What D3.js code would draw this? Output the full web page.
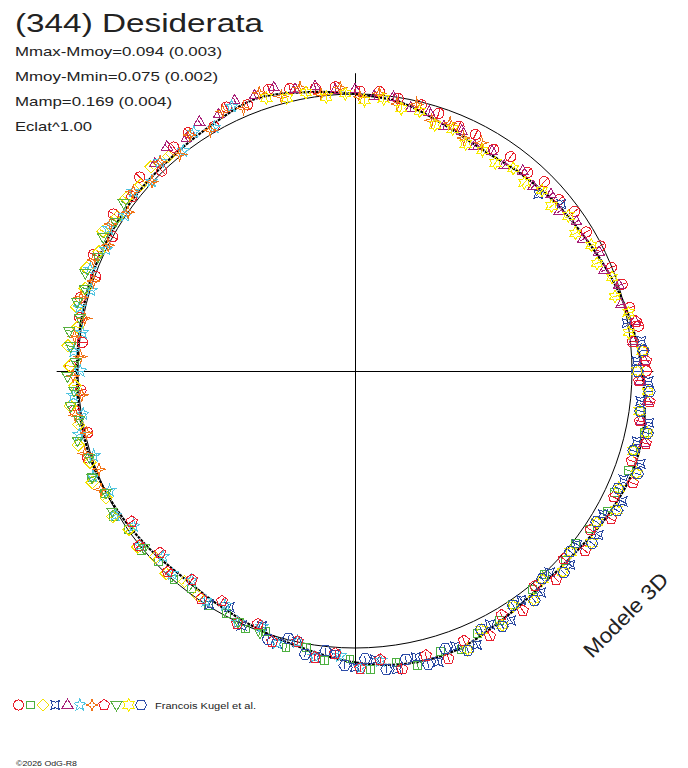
<!DOCTYPE html>
<html>
<head>
<meta charset="utf-8">
<title>(344) Desiderata</title>
<style>
  html, body { margin: 0; background: #fff; }
  svg { display: block; font-family: "Liberation Sans", Arial, sans-serif; }
  .txt { fill: #222; }
</style>
</head>
<body>
<div id="chart"></div>
<script src="https://cdn.jsdelivr.net/npm/d3@7"></script>
<script>
// phase in degrees (0 = top, clockwise), value = relative flux (1 = reference circle)
var modelPhase = [0,10,20,30,40,50,60,70,80,90,100,110,120,130,140,150,160,170,180,190,200,210,220,230,240,250,260,270,280,290,300,310,320,330,340,350]
var modelFlux = [1.000,0.982,0.945,0.922,0.930,0.945,0.960,0.985,1.012,1.036,1.060,1.066,1.050,1.030,1.027,1.045,1.072,1.073,1.052,1.020,0.996,0.978,0.970,0.982,0.995,1.005,1.006,1.004,1.005,1.010,1.012,1.014,1.017,1.028,1.046,1.022]

var s01 = [[252,1.015],[257,0.990],[262,1.022],[266,0.992],[271,1.026],[276,0.990],[281,1.012],[285,1.026],[290,0.996],[294,1.034],[299,1.000],[303,1.040],[308,1.022],[312,1.046],[316,1.004],[321,1.040],[325,1.050],[330,1.018],[334,1.060],[338,1.036],[343,1.064],[347,1.046],[352,1.030],[356,1.028],[1,1.010],[5,1.012],[9,0.996],[14,0.990],[18,0.978],[23,0.960],[27,0.958],[32,0.944],[36,0.956],[41,0.950],[45,0.966],[50,0.962],[54,0.980],[59,0.974],[63,0.994],[68,0.998],[72,1.014],[77,1.018],[81,1.036],[86,1.040],[90,1.052]]
var s02 = [[98,1.040],[102,1.070],[106,1.044],[110,1.052],[115,1.034],[119,1.044],[124,1.020],[128,1.010],[132,1.022],[137,1.004],[141,1.016],[146,1.018],[150,1.040],[155,1.044],[159,1.076],[163,1.058],[168,1.086],[172,1.064],[177,1.078],[181,1.040],[186,1.052],[190,1.012],[194,1.030],[199,0.996],[203,1.012],[208,0.990],[212,0.998],[217,0.982],[221,0.996],[226,0.988],[230,1.006],[235,0.998],[239,1.018],[244,1.008],[248,1.026]]
var s03 = [[215,0.990],[219,0.978],[223,1.000],[227,0.986],[231,1.010],[235,0.996],[239,1.020],[243,1.008],[247,1.030],[251,1.012],[255,1.034],[259,1.016],[263,1.036],[267,1.012],[271,1.030],[275,1.040],[279,1.014],[283,1.032],[287,1.018],[291,1.038],[295,1.020],[299,1.040],[303,1.022],[307,1.036],[311,1.024],[315,1.042],[319,1.026]]
var s04 = [[46,0.920],[51,0.958],[80,0.996],[84,1.040],[88,1.018],[92,1.060],[96,1.036],[100,1.078],[104,1.048],[108,1.084],[112,1.046],[116,1.074],[120,1.034],[124,1.060],[128,1.018],[132,1.046],[136,1.012],[140,1.044],[144,1.022],[148,1.062],[152,1.036],[156,1.082],[160,1.058],[164,1.092],[168,1.056],[172,1.088],[176,1.044],[180,1.070],[184,1.024],[188,1.044],[192,1.000],[196,1.024],[200,0.980],[204,1.006],[208,0.966],[212,0.994]]
var s05 = [[316,1.040],[320,1.056],[324,1.036],[328,1.060],[332,1.048],[336,1.068],[340,1.058],[344,1.064],[348,1.040],[352,1.036],[356,1.016],[0,1.016],[4,0.994],[8,0.998],[12,0.970],[16,0.972],[20,0.940],[24,0.948],[28,0.920],[32,0.934],[36,0.916],[40,0.942],[44,0.926],[48,0.952],[52,0.936],[56,0.964],[60,0.950],[64,0.980],[68,0.970],[72,1.002],[76,0.990],[80,1.026],[84,1.010],[88,1.044],[92,1.030],[96,1.062],[100,1.048],[104,1.076]]
var s06 = [[175,1.050],[179,1.072],[183,1.030],[188,1.042],[192,1.000],[196,1.022],[200,0.982],[205,1.002],[209,0.966],[213,0.990],[218,0.960],[222,0.986],[226,0.964],[231,1.000],[235,0.976],[239,1.010],[244,0.986],[248,1.020],[252,0.992],[257,1.022],[261,0.994],[265,1.020],[270,0.992],[274,1.018],[278,0.994],[283,1.020],[287,0.996],[291,1.024],[296,1.000],[300,1.028],[304,1.002],[309,1.030],[313,1.004],[317,1.032],[322,1.008],[326,1.040],[330,1.016],[335,1.054]]
var s07 = [[245,1.012],[249,0.990],[253,1.020],[257,0.994],[261,1.022],[265,0.990],[269,1.018],[273,0.992],[277,1.020],[281,0.994],[285,1.024],[289,0.998],[293,1.026],[297,1.000],[301,1.030],[305,1.000],[309,1.030],[313,1.002],[317,1.032],[321,1.006],[325,1.040],[329,1.014],[333,1.052],[337,1.030],[341,1.062],[345,1.026],[349,1.042],[353,1.006],[357,1.024],[1,0.990],[5,1.006],[9,0.976],[13,0.988],[17,0.946],[21,0.958],[25,0.928],[29,0.942]]
var s08 = [[80,1.030],[84,1.008],[88,1.052],[92,1.026],[96,1.070],[100,1.044],[104,1.082],[108,1.050],[112,1.082],[116,1.040],[120,1.068],[124,1.026],[128,1.054],[132,1.014],[136,1.046],[140,1.012],[145,1.056],[149,1.028],[153,1.074],[158,1.050],[162,1.092],[166,1.058],[171,1.090],[175,1.046],[179,1.074],[184,1.022],[188,1.044],[192,0.998],[197,1.022],[201,0.978],[205,1.006],[210,0.960],[214,0.992],[218,0.956],[223,0.992],[227,0.962],[231,1.002],[236,0.972]]
var s09 = [[200,1.004],[205,0.998],[230,0.994],[240,1.012],[244,1.000],[248,1.024],[252,1.008],[256,1.032],[260,1.010],[263,1.034],[266,1.016],[269,1.038],[272,1.010],[275,1.030],[278,1.042],[281,1.012],[284,1.034],[287,1.020],[290,1.036],[294,1.016],[298,1.030],[302,1.020],[306,1.032]]
var s10 = [[342,1.036],[346,1.016],[350,1.020],[354,0.994],[358,1.002],[2,0.978],[6,0.988],[10,0.962],[14,0.966],[18,0.934],[22,0.942],[26,0.912],[30,0.920],[34,0.906],[38,0.928],[42,0.914],[46,0.938],[50,0.926],[54,0.952],[58,0.938],[62,0.966],[66,0.956],[70,0.988],[74,0.976],[78,1.010],[82,0.998],[86,1.040],[90,1.020],[94,1.060],[98,1.038],[102,1.078],[106,1.046],[110,1.082],[114,1.042],[118,1.070],[122,1.030],[126,1.056],[130,1.016],[134,1.044],[138,1.012],[142,1.048],[146,1.022],[150,1.062],[154,1.040],[158,1.084]]
var s11 = [[86,1.044],[90,1.020],[94,1.066],[98,1.040],[102,1.080],[106,1.046],[110,1.086],[114,1.040],[118,1.072],[122,1.028],[126,1.058],[130,1.014],[134,1.048],[138,1.010],[142,1.052],[146,1.020],[150,1.064],[154,1.038],[158,1.088],[162,1.054],[166,1.092],[170,1.056],[174,1.084],[178,1.040],[182,1.064],[186,1.016],[190,1.038],[194,0.994],[198,1.018]]

var sessions = [s01, s02, s03, s04, s05, s06, s07, s08, s09, s10, s11]
var sessionErr = [0.018, 0.014, 0.012, 0.012, 0.012, 0.012, 0.012, 0.014, 0.012, 0.012, 0.012]
var sessionShape = ["circle", "square", "diamond", "cross", "triangle", "star5", "star4", "pentagon", "triangleDown", "star6", "hexagon"]
var sessionColor = ["#e8202c", "#4cb040", "#f2e000", "#2a48a0", "#a82078", "#50c4e0", "#f07418", "#e82030", "#58b040", "#f8ec00", "#2c4ca8"]

var title = "(344) Desiderata"
var statLines = ["Mmax-Mmoy=0.094 (0.003)", "Mmoy-Mmin=0.075 (0.002)", "Mamp=0.169 (0.004)", "Eclat^1.00"]
var statWidths = [207, 203, 157, 77]
var author = "Francois Kugel et al."
var copyright = "\u00a92026 OdG-R8"
var modelLabel = "Modele 3D"

var width = 688, height = 768, cx = 355, cy = 371

var r = d3.scaleLinear().domain([0, 1]).range([0, 277])
var ang = d3.scaleLinear().domain([0, 360]).range([0, 2 * Math.PI])

function px(a, f) { return cx + r(f) * Math.sin(ang(a)) }
function py(a, f) { return cy - r(f) * Math.cos(ang(a)) }

function star(n, ro, ri, rot) {
	var pts = []
	for (var k = 0; k < 2 * n; k++) {
		var t = rot + k * Math.PI / n, rr = k % 2 ? ri : ro
		pts.push([(rr * Math.sin(t)).toFixed(2), (-rr * Math.cos(t)).toFixed(2)])
	}
	return "M" + pts.join("L") + "Z"
}
function poly(n, rr, rot) {
	var pts = []
	for (var k = 0; k < n; k++) {
		var t = rot + k * 2 * Math.PI / n
		pts.push([(rr * Math.sin(t)).toFixed(2), (-rr * Math.cos(t)).toFixed(2)])
	}
	return "M" + pts.join("L") + "Z"
}
function shapePath(type, s) {
	switch (type) {
		case "circle": return d3.symbol(d3.symbolCircle, Math.PI * 27 * s * s)()
		case "square": return poly(4, 5.6 * s, Math.PI / 4)
		case "diamond": return poly(4, 6.2 * s, 0)
		case "cross": return star(4, 6.4 * s, 2.8 * s, Math.PI / 4)
		case "triangle": return poly(3, 6.3 * s, 0)
		case "star5": return star(5, 6.4 * s, 2.7 * s, 0)
		case "star4": return star(4, 6.4 * s, 2.1 * s, 0)
		case "pentagon": return poly(5, 5.8 * s, 0)
		case "triangleDown": return poly(3, 6.3 * s, Math.PI)
		case "star6": return star(6, 6.4 * s, 3.6 * s, 0)
		case "hexagon": return poly(6, 5.8 * s, Math.PI / 6)
	}
}

var svg = d3.select("#chart").append("svg")
	.attr("width", width)
	.attr("height", height)

// reference circle and axes
svg.append("circle")
	.attr("cx", cx).attr("cy", cy).attr("r", r(1))
	.attr("fill", "none").attr("stroke", "#000").attr("stroke-width", 1)

svg.append("line")
	.attr("x1", cx - r(1.077)).attr("x2", cx + r(1.077))
	.attr("y1", cy + 0.5).attr("y2", cy + 0.5)
	.attr("stroke", "#000").attr("stroke-width", 1)
svg.append("line")
	.attr("x1", cx + 0.5).attr("x2", cx + 0.5)
	.attr("y1", cy - r(1.075)).attr("y2", cy + r(1.075))
	.attr("stroke", "#000").attr("stroke-width", 1)

// 3D model curve (under the observations)
var model = modelPhase.map(function(p, i) { return [p, modelFlux[i]] })
var radial = d3.lineRadial()
	.angle(function(d) { return ang(d[0]) })
	.radius(function(d) { return r(d[1]) })
	.curve(d3.curveCardinalClosed)

svg.append("path")
	.attr("transform", "translate(" + cx + "," + cy + ")")
	.attr("d", radial(model))
	.attr("fill", "none")
	.attr("stroke", "#000")
	.attr("stroke-width", 2.2)
	.attr("stroke-dasharray", "3,1")

// observations
sessions.forEach(function(pts, i) {
	var g = svg.append("g")
		.attr("fill", "none")
		.attr("stroke", sessionColor[i])
		.attr("stroke-width", 1)
		.attr("shape-rendering", "crispEdges")
	var e = sessionErr[i]

	g.selectAll("line")
		.data(pts)
		.enter()
		.append("line")
		.attr("x1", function(d) { return px(d[0], d[1] - e) })
		.attr("y1", function(d) { return py(d[0], d[1] - e) })
		.attr("x2", function(d) { return px(d[0], d[1] + e) })
		.attr("y2", function(d) { return py(d[0], d[1] + e) })

	g.selectAll("path")
		.data(pts)
		.enter()
		.append("path")
		.attr("transform", function(d) { return "translate(" + px(d[0], d[1]).toFixed(2) + "," + py(d[0], d[1]).toFixed(2) + ")" })
		.attr("d", shapePath(sessionShape[i], 1))
})

// texts
svg.append("text")
	.attr("class", "txt")
	.attr("x", 15).attr("y", 32)
	.attr("font-size", 25)
	.attr("textLength", 248)
	.attr("lengthAdjust", "spacingAndGlyphs")
	.text(title)

svg.selectAll(".stat")
	.data(statLines)
	.enter()
	.append("text")
	.attr("class", "txt stat")
	.attr("x", 15)
	.attr("y", function(d, i) { return 56 + i * 25 })
	.attr("font-size", 13.5)
	.attr("textLength", function(d, i) { return statWidths[i] })
	.attr("lengthAdjust", "spacingAndGlyphs")
	.text(function(d) { return d })

svg.append("text")
	.attr("class", "txt")
	.attr("transform", "translate(592,659) rotate(-45)")
	.attr("font-size", 21)
	.attr("textLength", 110)
	.attr("lengthAdjust", "spacingAndGlyphs")
	.text(modelLabel)

// legend
var legend = svg.append("g")
legend.selectAll("path")
	.data(sessionShape)
	.enter()
	.append("path")
	.attr("transform", function(d, i) { return "translate(" + (18.5 + i * 12.25) + ",705)" })
	.attr("d", function(d) { return shapePath(d, 0.98) })
	.attr("fill", "none")
	.attr("stroke", function(d, i) { return sessionColor[i] })
	.attr("stroke-width", 1)
	.attr("shape-rendering", "crispEdges")

svg.append("text")
	.attr("class", "txt")
	.attr("x", 155).attr("y", 708.5)
	.attr("font-size", 8.5)
	.attr("textLength", 101)
	.attr("lengthAdjust", "spacingAndGlyphs")
	.text(author)

svg.append("text")
	.attr("class", "txt")
	.attr("x", 16).attr("y", 765.5)
	.attr("font-size", 8)
	.attr("textLength", 61)
	.attr("lengthAdjust", "spacingAndGlyphs")
	.text(copyright)
</script>
</body>
</html>
